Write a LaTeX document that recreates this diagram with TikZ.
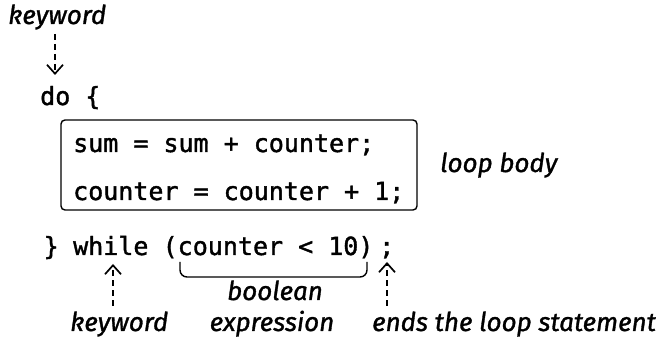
\documentclass[tikz,border=0pt]{standalone}
\usepackage{fontspec}
\setmainfont{Fira Sans}[FakeBold=1.2]
\newfontfamily\codefont{DejaVu Sans Mono}[FakeBold=1.5]
\usetikzlibrary{arrows.meta,fit}
\begin{document}
\begin{tikzpicture}[x=1pt,y=-1pt,
  lbl/.style={font=\fontsize{26}{30}\selectfont\itshape, inner sep=0, anchor=base west},
  lblc/.style={font=\fontsize{26}{30}\selectfont\itshape, inner sep=0, anchor=base},
  code/.style={font=\codefont\fontsize{25}{30}\selectfont, inner sep=0, anchor=base west},
  ptr/.style={line width=1.8pt, dash pattern=on 6pt off 4pt, -{Straight Barb[length=9pt,width=16pt,line width=1.7pt]}},
  bodybox/.style={draw, line width=1.4pt, rounded corners=4pt, inner sep=0}]
\useasboundingbox (0,0) rectangle (664,344);
% top keyword
\node[lbl] (kw1) at (8,24) {keyword};
\node[code] (do) at (40,105) {do \{};
\coordinate (a1s) at (55,34);
\coordinate (a1e) at (55,75);
\draw[ptr] (a1s) -- (a1e);
% loop body
\node[code] (l1) at (73,152) {sum = sum + counter;};
\node[code] (l2) at (73,200) {counter = counter + 1;};
\node[bodybox, fit={(61,120) (417,210)}] (body) {};
\node[lbl] (lb) at (440,172) {loop body};
% while line
\node[code] (cb) at (43.5,255) {\}};
\node[code] (wh) at (73,255) {while};
\node[code] (cond) at (162.5,255) {(counter < 10)};
\node[code] (semi) at (379,255) {;};
% brace
\coordinate (bl) at (180,262);
\coordinate (br) at (367,262);
\draw[line width=1.4pt, rounded corners=7pt] (bl) -- (180,277) -- (367,277) -- (br);
% labels
\node[lblc] (bool) at (275,300) {boolean};
\node[lblc] (expr) at (272,331) {expression};
\node[lbl] (kw2) at (70,331) {keyword};
\node[lbl] (ends) at (372,331) {ends the loop statement};
\coordinate (a2s) at (113,306);
\coordinate (a2e) at (113,264);
\draw[ptr] (a2s) -- (a2e);
\coordinate (a3s) at (387,306);
\coordinate (a3e) at (387,262);
\draw[ptr] (a3s) -- (a3e);
\end{tikzpicture}
\end{document}
